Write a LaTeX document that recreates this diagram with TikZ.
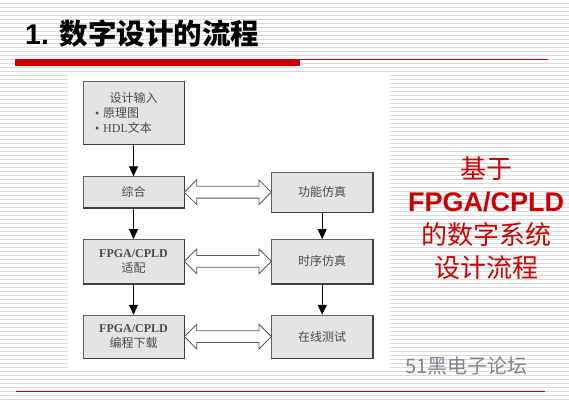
\documentclass[tikz,border=0pt]{standalone}
\usepackage{fontspec}
\setmainfont{Liberation Serif}
\setsansfont{Liberation Sans}
\newfontfamily\cjk{Noto Sans CJK SC}
\usepackage{xcolor}
\usetikzlibrary{arrows.meta,positioning,shapes.arrows,calc}

\definecolor{stripegray}{HTML}{DADADA}
\definecolor{boxgray}{HTML}{E4E4E4}
\definecolor{boxtext}{HTML}{4A4A4A}
\definecolor{slidered}{HTML}{CC0000}
\definecolor{markgray}{HTML}{80848C}

\tikzset{
  stage/.style={draw=gray!75!black, line width=0.7pt, fill=boxgray, text=boxtext,
    minimum width=101pt, inner sep=0pt, align=center, font=\fontsize{12}{15}\selectfont},
  edgeshade/.style={line width=1.6pt, draw=black!75},
  flow/.style={-{Triangle[length=10pt,width=9pt]}, line width=0.9pt},
  sim/.style={double arrow, draw=gray!70!black, fill=white, line width=0.8pt,
    inner xsep=0pt, inner ysep=5.5pt, double arrow head extend=6.5pt}
}

\begin{document}
\begin{tikzpicture}[x=1pt,y=-1pt]
\useasboundingbox (0,0) rectangle (569,402);
\fill[white] (0,0) rectangle (569,402);
% striped slide background
\foreach \y in {3.5,7.5,...,400} \draw[stripegray, line width=1pt] (0,\y) -- (569,\y);
\fill[white] (68,73) rectangle (390,370);

% title and rules
\node[anchor=base west, inner sep=0pt, font=\fontsize{28.5}{28}\selectfont] (title) at (25,44)
  {\sffamily\bfseries 1. {\cjk\bfseries 数字设计的流程}};
\fill[slidered] (15,59) rectangle (300,66);
\draw[slidered, line width=1.2pt] (300,59.6) -- (548,59.6);
\draw[slidered, line width=1pt] (16,391) -- (545,391);

% flow boxes
\node[stage, minimum height=63pt, text width=77pt, inner xsep=12pt, align=left] (in) at (133.5,112.5)
  {\makebox[77pt]{\cjk 设计输入}\\• {\cjk 原理图}\\• HDL{\cjk 文本}};
\node[stage, minimum height=31pt, below=32pt of in] (zh) {\cjk 综合};
\node[stage, minimum height=44pt, below=31pt of zh] (sp) {\textbf{FPGA/CPLD}\\{\cjk 适配}};
\node[stage, minimum height=43pt, below=31pt of sp] (bc) {\textbf{FPGA/CPLD}\\{\cjk 编程下载}};
\node[stage, minimum height=40pt, right=87pt of zh] (gn) {\cjk 功能仿真};
\node[stage, minimum height=44pt, right=87pt of sp] (sx) {\cjk 时序仿真};
\node[stage, minimum height=43pt, right=87pt of bc] (zx) {\cjk 在线测试};

\foreach \n in {in,zh,sp,bc,gn,sx,zx}
  \draw[edgeshade] (\n.north east) -- (\n.south east) -- (\n.south west);

\draw[flow] (in) -- (zh);
\draw[flow] (zh) -- (sp);
\draw[flow] (sp) -- (bc);
\draw[flow] (gn) -- (sx);
\draw[flow] (sx) -- (zx);

\node[sim, minimum height=87pt] (s1) at ($(zh.east)!.5!(gn.west)$) {};
\node[sim, minimum height=87pt] (s2) at ($(sp.east)!.5!(sx.west)$) {};
\node[sim, minimum height=87pt] (s3) at ($(bc.east)!.5!(zx.west)$) {};

% side caption
\node[text=slidered, align=center, font=\fontsize{26}{33}\selectfont] (side) at (486,218)
  {{\cjk 基于}\\{\sffamily\bfseries\fontsize{27}{33}\selectfont FPGA/CPLD}\\{\cjk 的数字系统}\\{\cjk 设计流程}};

\node[anchor=base west, inner sep=0pt, text=markgray, font=\fontsize{20}{20}\selectfont] (mark) at (405,373)
  {\cjk 51黑电子论坛};
\end{tikzpicture}
\end{document}
